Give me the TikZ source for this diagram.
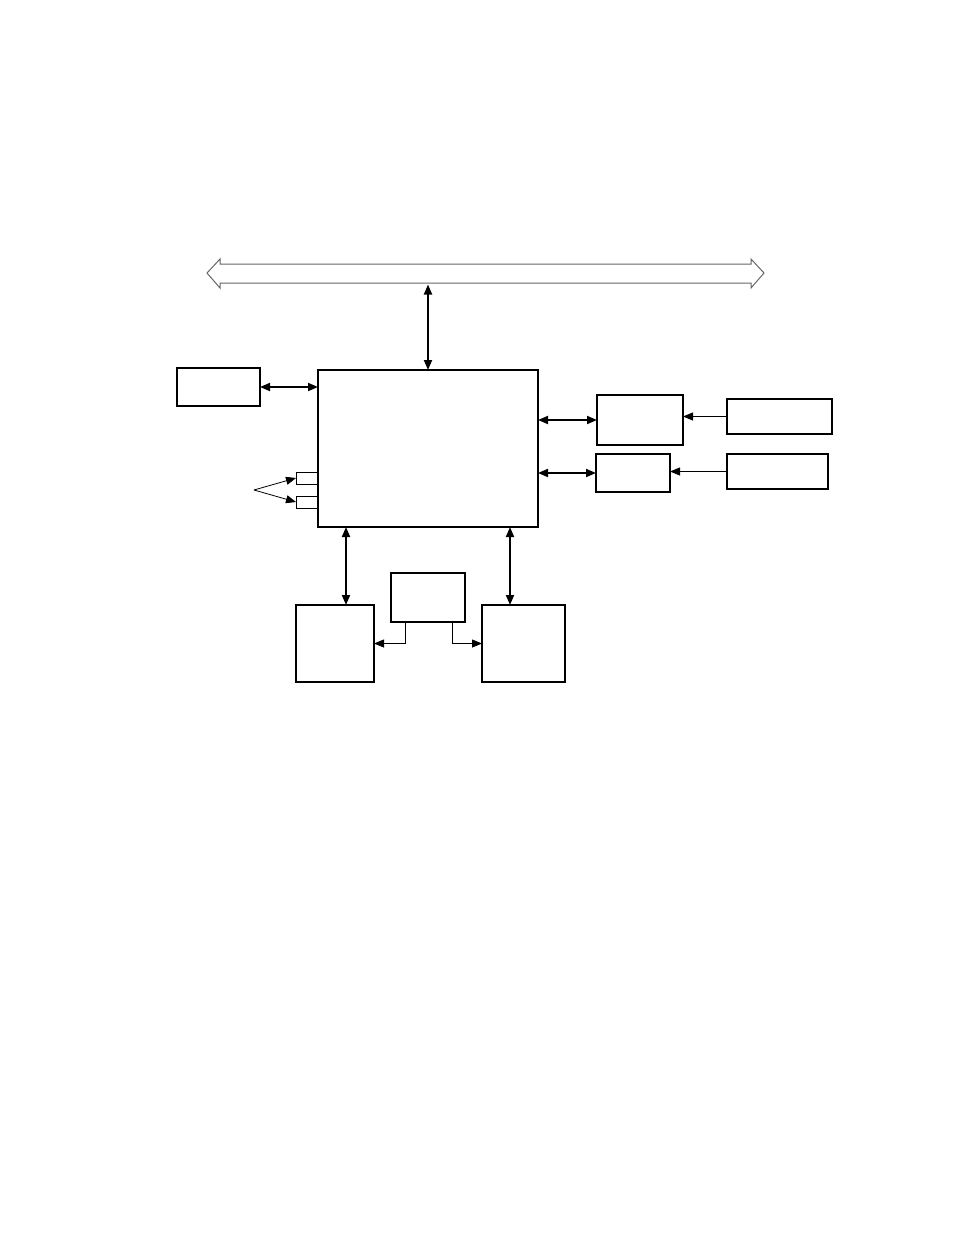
\documentclass[tikz,border=0pt]{standalone}
\usetikzlibrary{arrows.meta,calc}
\begin{document}
\begin{tikzpicture}[x=1pt,y=-1pt,
  blk/.style={draw,line width=1.6pt,inner sep=0pt,outer sep=0pt},
  pin/.style={draw,line width=0.7pt,inner sep=0pt,outer sep=0pt},
  thick arr/.style={line width=1.8pt,{Triangle[length=10pt,width=8pt]}-{Triangle[length=10pt,width=8pt]}},
  thin arr/.style={line width=0.8pt,-{Triangle[length=10pt,width=8pt]}},
  bus/.style={draw=black!60,line width=1pt,line join=miter}]
\useasboundingbox (0,0) rectangle (954,1235);
% bus
\draw[bus] (207,273) -- (220,259) -- (220,264) -- (751,264) -- (751,259) -- (764,273)
  -- (751,288) -- (751,283) -- (220,283) -- (220,288) -- cycle;
\coordinate (busb) at (428,284.5);
% boxes
\node[blk,minimum width=220pt,minimum height=157pt] (main) at (428,448.5) {};
\node[blk,minimum width=83pt,minimum height=38pt] (left) at (218.5,387) {};
\node[blk,minimum width=86pt,minimum height=50pt] (r1) at (640,420) {};
\node[blk,minimum width=74pt,minimum height=38pt] (r2) at (633,473) {};
\node[blk,minimum width=105pt,minimum height=35pt] (fr1) at (779.5,416.5) {};
\node[blk,minimum width=101pt,minimum height=35pt] (fr2) at (777.5,471.5) {};
\node[blk,minimum width=78pt,minimum height=77pt] (bl) at (335,643.5) {};
\node[blk,minimum width=83pt,minimum height=77pt] (br) at (523.5,643.5) {};
\node[blk,minimum width=74pt,minimum height=49pt] (mid) at (428,597.5) {};
\node[pin,minimum width=22pt,minimum height=12pt] (p1) at (307,478) {};
\node[pin,minimum width=22pt,minimum height=12pt] (p2) at (307,502) {};
\coordinate (src) at (254,490);
\coordinate (blt) at ($(bl.north)+(11,0)$);
\coordinate (brt) at ($(br.north)+(-13.5,0)$);
% connectors
\draw[thick arr] (busb) -- (main.north);
\draw[thick arr] (left.east) -- (left.east -| main.west);
\draw[thick arr] (main.east |- r1.west) -- (r1.west);
\draw[thick arr] (main.east |- r2.west) -- (r2.west);
\draw[thin arr] (fr1.west) -- (fr1.west -| r1.east);
\draw[thin arr] (fr2.west) -- (fr2.west -| r2.east);
\draw[thick arr] (main.south -| blt) -- (blt);
\draw[thick arr] (main.south -| brt) -- (brt);
\draw[thin arr] ($(mid.south west)+(14,0)$) |- (bl.east);
\draw[thin arr] ($(mid.south east)+(-13,0)$) |- (br.west);
\draw[thin arr] (src) -- (p1.west);
\draw[thin arr] (src) -- (p2.west);
\end{tikzpicture}
\end{document}
